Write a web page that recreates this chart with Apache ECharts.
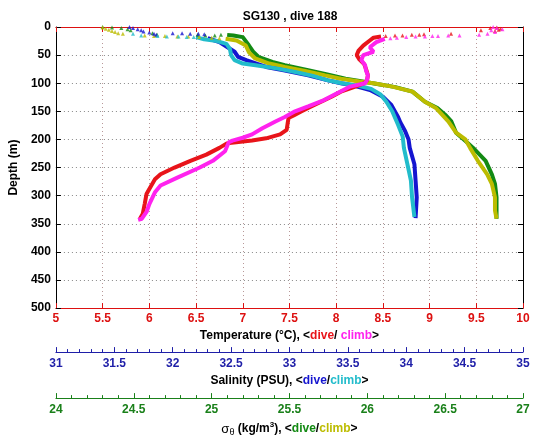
<!DOCTYPE html>
<html>
<head>
<meta charset="utf-8">
<script src="https://cdn.jsdelivr.net/npm/echarts@6/dist/echarts.min.js"></script>
<style>html,body{margin:0;padding:0;background:#fff}#c{width:535px;height:442px}</style>
</head>
<body>
<div id="c"></div>
<script>
// ---- data: [value, depth (m)] ----
const tempTicks = [5, 5.5, 6, 6.5, 7, 7.5, 8, 8.5, 9, 9.5, 10];
const salTicks = [31, 31.5, 32, 32.5, 33, 33.5, 34, 34.5, 35];
const sigTicks = [24, 24.5, 25, 25.5, 26, 26.5, 27];
const depthTicks = [0, 50, 100, 150, 200, 250, 300, 350, 400, 450, 500];

const tempDive = [[8.48,17],[8.40,19],[8.36,24],[8.29,33],[8.24,42],[8.22,50],[8.25,58],[8.30,66],[8.32,75],[8.34,86],[8.33,95],[8.30,100],[8.22,105],[8.12,111],[8.05,115],[7.95,124],[7.80,136],[7.70,144],[7.63,150],[7.55,157],[7.49,162],[7.48,172],[7.47,183],[7.40,191],[7.25,198],[7.10,202],[6.93,205],[6.83,207],[6.75,215],[6.61,227],[6.44,238],[6.27,250],[6.12,262],[6.06,271],[6.00,288],[5.97,297],[5.95,315],[5.93,332],[5.90,341]];
const tempClimb = [[8.52,21],[8.43,27],[8.36,36],[8.40,44],[8.29,50],[8.27,59],[8.31,68],[8.32,78],[8.34,86],[8.33,94],[8.31,100],[8.15,106],[8.01,118],[7.87,130],[7.70,141],[7.56,150],[7.45,160],[7.35,168],[7.21,180],[7.10,191],[7.00,197],[6.89,202],[6.85,205],[6.81,221],[6.68,238],[6.54,250],[6.30,268],[6.12,282],[6.06,294],[6.00,315],[5.97,329],[5.92,341],[5.88,343]];
const tempDiveSurf = [[9.72,1],[9.76,3],[9.74,5],[9.70,7],[9.65,2],[9.55,6],[9.23,12],[8.94,13],[8.89,14],[8.81,14],[8.71,15],[8.63,15],[8.53,16]];
const tempClimbSurf = [[9.68,0],[9.72,2],[9.78,4],[9.66,6],[9.70,9],[9.62,12],[9.53,14],[9.32,15],[9.20,15],[9.09,16],[9.03,16],[8.95,17],[8.85,17],[8.75,18],[8.65,19],[8.58,20]];

const salDive = [[32.30,20],[32.40,27],[32.50,40],[32.53,44],[32.56,53],[32.63,59],[32.80,71],[32.95,77],[33.16,86],[33.33,95],[33.44,100],[33.55,104],[33.69,112],[33.80,124],[33.87,138],[33.93,160],[33.95,170],[33.99,185],[34.02,200],[34.03,215],[34.07,244],[34.08,273],[34.09,303],[34.08,340]];
const salClimb = [[32.20,18],[32.27,22],[32.38,25],[32.46,30],[32.49,39],[32.50,50],[32.53,59],[32.60,65],[32.71,68],[32.90,74],[33.05,80],[33.20,87],[33.33,95],[33.45,100],[33.60,105],[33.70,110],[33.78,120],[33.83,133],[33.88,150],[33.93,174],[33.97,195],[33.98,215],[34.01,244],[34.04,273],[34.05,303],[34.07,338]];
const salDiveSurf = [[31.63,0],[31.66,2],[31.70,4],[31.73,6],[31.75,8],[31.80,10],[31.84,12],[31.86,14],[32.00,11],[32.08,11],[32.15,12],[32.22,12],[32.27,13]];
const salClimbSurf = [[31.66,12],[31.73,15],[31.87,16],[31.95,17],[32.05,17],[32.12,18],[32.18,18]];

const sigDive = [[25.10,14],[25.14,15],[25.20,18],[25.24,33],[25.27,45],[25.30,53],[25.39,62],[25.47,68],[25.62,77],[25.75,85],[25.86,92],[25.97,97],[26.10,103],[26.18,107],[26.29,115],[26.37,133],[26.45,144],[26.50,156],[26.54,168],[26.57,188],[26.62,200],[26.68,215],[26.76,238],[26.80,262],[26.82,279],[26.83,303],[26.83,341]];
const sigClimb = [[25.09,21],[25.16,24],[25.22,33],[25.24,45],[25.28,56],[25.37,65],[25.47,71],[25.60,78],[25.73,86],[25.83,92],[25.95,97],[26.04,100],[26.16,106],[26.29,115],[26.37,133],[26.44,144],[26.48,156],[26.52,168],[26.57,188],[26.63,200],[26.66,215],[26.71,238],[26.77,262],[26.80,279],[26.82,303],[26.82,326],[26.83,341]];
const sigDiveSurf = [[24.30,0],[24.36,1],[24.42,2],[24.46,4],[24.48,6],[24.62,11],[24.65,14],[24.91,14],[24.96,15],[25.02,15],[25.06,14]];
const sigClimbSurf = [[24.30,1],[24.32,3],[24.34,5],[24.36,7],[24.38,9],[24.40,11],[24.43,12],[24.57,15],[24.63,16],[24.70,16],[24.78,17],[24.85,17],[24.92,18],[25.00,19],[25.05,20]];

// ---- styling ----
const FONT = 'Liberation Sans, Arial, sans-serif';
const C = {red:'#e8141a', mag:'#ff22ee', blue:'#1515d0', cyan:'#22bccb', green:'#138a13', yel:'#bcbc00',
           tAx:'#dd1111', sAx:'#1f1fa8', gAx:'#1a801a'};

function lineS(data, color, xi){
  return {type:'line', data, xAxisIndex:xi, yAxisIndex:0, showSymbol:false, symbol:'none',
    lineStyle:{color, width:4}, itemStyle:{color}, animation:false, silent:true, z:3};
}
function ptsS(data, color, xi, sym){
  return {type:'scatter', data, xAxisIndex:xi, yAxisIndex:0, symbol:sym, symbolSize:4,
    itemStyle:{color}, animation:false, silent:true, z:3};
}
const baseName = {fontFamily:FONT, fontWeight:'bold', fontSize:12, color:'#000'};
function valFmt(v){ return String(v); }

const chart = echarts.init(document.getElementById('c'), null, {renderer:'canvas'});
chart.setOption({
  backgroundColor:'#fff',
  animation:false,
  title:{text:'SG130 , dive 188', left:285, top:6, textAlign:'center',
    textStyle:{fontFamily:FONT, fontWeight:'bold', fontSize:12, color:'#000'}},
  grid:{left:46, right:12, top:27, bottom:131, containLabel:false},
  xAxis:[
    {type:'value', position:'bottom', min:5, max:10, interval:0.5,
     axisLine:{onZero:false, lineStyle:{color:C.tAx, width:1}},
     axisTick:{inside:true, length:5, lineStyle:{color:C.tAx}},
     axisLabel:{margin:5, color:C.tAx, fontFamily:FONT, fontWeight:'bold', fontSize:12, formatter:valFmt, showMinLabel:true, showMaxLabel:true},
     splitLine:{show:true, lineStyle:{color:'#b89898', type:[1,3], width:1}},
     name:'{b|Temperature (°C), <}{r|dive}{b|/ }{m|climb}{b|>}', nameLocation:'middle', nameGap:17,
     nameTextStyle:{rich:{b:baseName, r:Object.assign({},baseName,{color:C.red}), m:Object.assign({},baseName,{color:C.mag})}}},
    {type:'value', position:'bottom', offset:44, min:31, max:35, interval:0.5,
     axisLine:{onZero:false, lineStyle:{color:C.sAx, width:1}},
     axisTick:{inside:true, length:5, lineStyle:{color:C.sAx}},
     minorTick:{show:true, splitNumber:5, length:3, lineStyle:{color:C.sAx}},
     axisLabel:{margin:6, color:C.sAx, fontFamily:FONT, fontWeight:'bold', fontSize:12, formatter:valFmt, showMinLabel:true, showMaxLabel:true},
     splitLine:{show:false},
     name:'{b|Salinity (PSU), <}{d|dive}{b|/}{c|climb}{b|>}', nameLocation:'middle', nameGap:19,
     nameTextStyle:{rich:{b:baseName, d:Object.assign({},baseName,{color:C.blue}), c:Object.assign({},baseName,{color:C.cyan})}}},
    {type:'value', position:'bottom', offset:90, min:24, max:27, interval:0.5,
     axisLine:{onZero:false, lineStyle:{color:C.gAx, width:1}},
     axisTick:{inside:true, length:5, lineStyle:{color:C.gAx}},
     minorTick:{show:true, splitNumber:5, length:3, lineStyle:{color:C.gAx}},
     axisLabel:{margin:6, color:C.gAx, fontFamily:FONT, fontWeight:'bold', fontSize:12, formatter:valFmt, showMinLabel:true, showMaxLabel:true},
     splitLine:{show:false},
     name:'{s|σ}{sub|θ}{b| (kg/m}{sup|3}{b|), <}{g|dive}{b|/}{y|climb}{b|>}', nameLocation:'middle', nameGap:14,
     nameTextStyle:{rich:{
       b:Object.assign({},baseName,{lineHeight:16}),
       s:{fontFamily:FONT, fontSize:13, color:'#000', lineHeight:16},
       sub:{fontFamily:FONT, fontSize:9, color:'#000', verticalAlign:'bottom', lineHeight:9, padding:[7,0,0,0]},
       sup:{fontFamily:FONT, fontWeight:'bold', fontSize:8, color:'#000', verticalAlign:'top', lineHeight:8, padding:[0,0,6,0]},
       g:Object.assign({},baseName,{color:C.green, lineHeight:16}),
       y:Object.assign({},baseName,{color:C.yel, lineHeight:16})}}},
    {type:'value', position:'top', min:5, max:10, interval:0.5,
     axisLine:{onZero:false, lineStyle:{color:C.tAx, width:1}},
     axisTick:{inside:true, length:5, lineStyle:{color:C.tAx}},
     axisLabel:{show:false}, splitLine:{show:false}}
  ],
  yAxis:[
    {type:'value', inverse:true, min:0, max:500, interval:50, position:'left',
     axisLine:{show:true, onZero:false, lineStyle:{color:'#000', width:1}},
     axisTick:{show:true, inside:true, length:5, lineStyle:{color:'#000'}},
     axisLabel:{margin:5, color:'#000', fontFamily:FONT, fontWeight:'bold', fontSize:12, showMinLabel:true, showMaxLabel:true},
     splitLine:{show:true, lineStyle:{color:'#888', type:[1,3], width:1}},
     name:'Depth (m)', nameLocation:'middle', nameGap:28, nameRotate:90,
     nameTextStyle:{fontFamily:FONT, fontWeight:'bold', fontSize:12, color:'#000'}},
    {type:'value', inverse:true, min:0, max:500, interval:50, position:'right',
     axisLine:{show:true, onZero:false, lineStyle:{color:'#000', width:1}},
     axisTick:{show:true, inside:true, length:5, lineStyle:{color:'#000'}},
     axisLabel:{show:false}, splitLine:{show:false}}
  ],
  series:[
    lineS(sigDive, C.green, 2), ptsS(sigDiveSurf, C.green, 2, 'triangle'),
    lineS(sigClimb, C.yel, 2), ptsS(sigClimbSurf, C.yel, 2, 'triangle'),
    lineS(salDive, C.blue, 1), ptsS(salDiveSurf, C.blue, 1, 'triangle'),
    lineS(salClimb, C.cyan, 1), ptsS(salClimbSurf, C.cyan, 1, 'triangle'),
    lineS(tempDive, C.red, 0), ptsS(tempDiveSurf, C.red, 0, 'triangle'),
    lineS(tempClimb, C.mag, 0), ptsS(tempClimbSurf, C.mag, 0, 'triangle')
  ]
});
</script>
</body>
</html>
